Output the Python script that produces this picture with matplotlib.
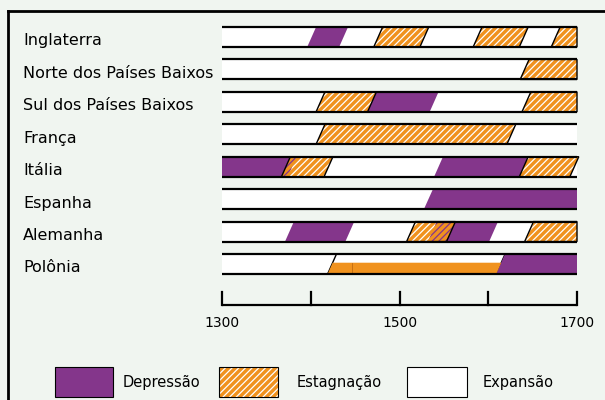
import matplotlib.pyplot as plt
from matplotlib.patches import Polygon, Rectangle
from matplotlib.lines import Line2D

# Países e fases econômicas (início, fim, fase)
# D = depressão, E = estagnação, M = mistura depressão/estagnação, P = estagnação (Polônia)
countries = ["Inglaterra", "Norte dos Países Baixos", "Sul dos Países Baixos", "França",
             "Itália", "Espanha", "Alemanha", "Polônia"]

inglaterra = [(1401, 1437, "D"), (1476, 1528, "E"), (1588, 1640, "E"), (1676, 1700, "E")]
norte = [(1641, 1700, "E")]
sul = [(1411, 1469, "E"), (1469, 1539, "D"), (1643, 1700, "E")]
franca = [(1411, 1626, "E")]
italia = [(1300, 1372, "D"), (1372, 1420, "E"), (1372, 1379, "M"), (1544, 1640, "D"), (1640, 1697, "E")]
espanha = [(1533, 1700, "D")]
alemanha = [(1376, 1444, "D"), (1513, 1558, "E"), (1537, 1558, "M"), (1558, 1606, "D"), (1646, 1700, "E")]
polonia = [(1424, 1614, "P"), (1614, 1700, "D")]

periods = [inglaterra, norte, sul, franca, italia, espanha, alemanha, polonia]

tick_years = [1300, 1400, 1500, 1600, 1700]
tick_labels = ["1300", "", "1500", "", "1700"]
legend_labels = ["Depressão", "Estagnação", "Expansão"]

PURPLE = "#84368b"
ORANGE = "#f0921e"
BG = "#f0f5f0"
HATCH = "/////"

plt.rcParams["hatch.linewidth"] = 0.9

W, H = 605, 400
fig = plt.figure(figsize=(W / 100, H / 100), dpi=100, facecolor=BG)
ax = fig.add_axes([0, 0, 1, 1])
ax.set_facecolor(BG)
ax.axis("off")

# mapping: 1300 -> px 222, 1700 -> px 577 ; row i centre -> px 37 + 32.43 i
ppy = 355 / 400
ax.set_xlim(1300 - 222 / ppy, 1700 + (W - 577) / ppy)
row_px = 32.43
ax.set_ylim((H - 37) / row_px, -37 / row_px)

h = 10 / row_px      # half row height
s = 5                # slant (years)
y0, y1 = 1300, 1700


def para(a, b, r):
    la_b, la_t = (a, a) if a <= y0 else (a - s, a + s)
    rb_b, rb_t = (b, b) if b >= y1 else (b - s, b + s)
    return [(la_b, r + h), (rb_b, r + h), (rb_t, r - h), (la_t, r - h)]


for i, (name, segs) in enumerate(zip(countries, periods)):
    ax.add_patch(Rectangle((y0, i - h), y1 - y0, 2 * h, facecolor="white", lw=0, zorder=1))
    ax.plot([y0, y1], [i - h, i - h], color="black", lw=1.6, zorder=4, solid_capstyle="butt")
    ax.plot([y0, y1], [i + h, i + h], color="black", lw=1.6, zorder=4, solid_capstyle="butt")
    ax.text(1049.86 + 23 / ppy, i + 0.12, name, fontsize=11.5, va="center", ha="left")
    for a, b, kind in segs:
        pts = para(a, b, i)
        if kind == "D":
            ax.add_patch(Polygon(pts, facecolor=PURPLE, lw=0, zorder=2))
        elif kind == "E":
            ax.add_patch(Polygon(pts, facecolor=ORANGE, edgecolor="white", hatch=HATCH, lw=0, zorder=2))
            ax.add_patch(Polygon(pts, fill=False, edgecolor="black", lw=1, zorder=3))
        elif kind == "M":
            ax.add_patch(Polygon(pts, facecolor=ORANGE, edgecolor=PURPLE, hatch=HATCH, lw=0, zorder=2.5))
        elif kind == "P":
            ax.add_patch(Polygon(pts, facecolor="white", edgecolor="black", lw=1, zorder=2))
            yo = i - 0.04
            off = s * (yo - i) / h
            low = [(a - off, yo), (b - off, yo), (b - s, i + h), (a - s, i + h)]
            ax.add_patch(Polygon(low, facecolor=ORANGE, lw=0, zorder=2.2))
            ax.plot([1446, 1446], [yo, i + h], color="#c06a10", lw=0.6, zorder=2.3)

# eixo do tempo
axis_y = (305 - 37) / row_px
tick_top = (292 - 37) / row_px
ax.plot([y0, y1], [axis_y, axis_y], color="black", lw=1.6, solid_capstyle="butt")
for t, lab in zip(tick_years, tick_labels):
    ax.plot([t, t], [tick_top, axis_y], color="black", lw=1.6)
    if lab:
        ax.text(t, (323 - 37) / row_px, lab, ha="center", va="center", fontsize=10)


# moldura e legenda (posições em pixels da figura)
def fx(px):
    return px / W


def fy(py):
    return 1 - py / H


fig.add_artist(Line2D([fx(8), fx(8)], [fy(11), 0], color="black", lw=2))
fig.add_artist(Line2D([fx(8), 1], [fy(11), fy(11)], color="black", lw=2))

boxes = [(55, 58, dict(facecolor=PURPLE, lw=0)),
         (219, 59, dict(facecolor=ORANGE, edgecolor="white", hatch=HATCH, lw=0)),
         (407, 60, dict(facecolor="white", lw=0))]
text_x = [123, 297, 483]
for (x, w, kw), lab, tx in zip(boxes, legend_labels, text_x):
    fig.add_artist(Rectangle((fx(x), fy(397)), w / W, 30 / H, transform=fig.transFigure, **kw))
    fig.add_artist(Rectangle((fx(x), fy(397)), w / W, 30 / H, transform=fig.transFigure,
                             fill=False, edgecolor="black", lw=0.8))
    fig.text(fx(tx), fy(383), lab, fontsize=10.5, va="center", ha="left")

fig.savefig("out.png", dpi=100, facecolor=BG)
